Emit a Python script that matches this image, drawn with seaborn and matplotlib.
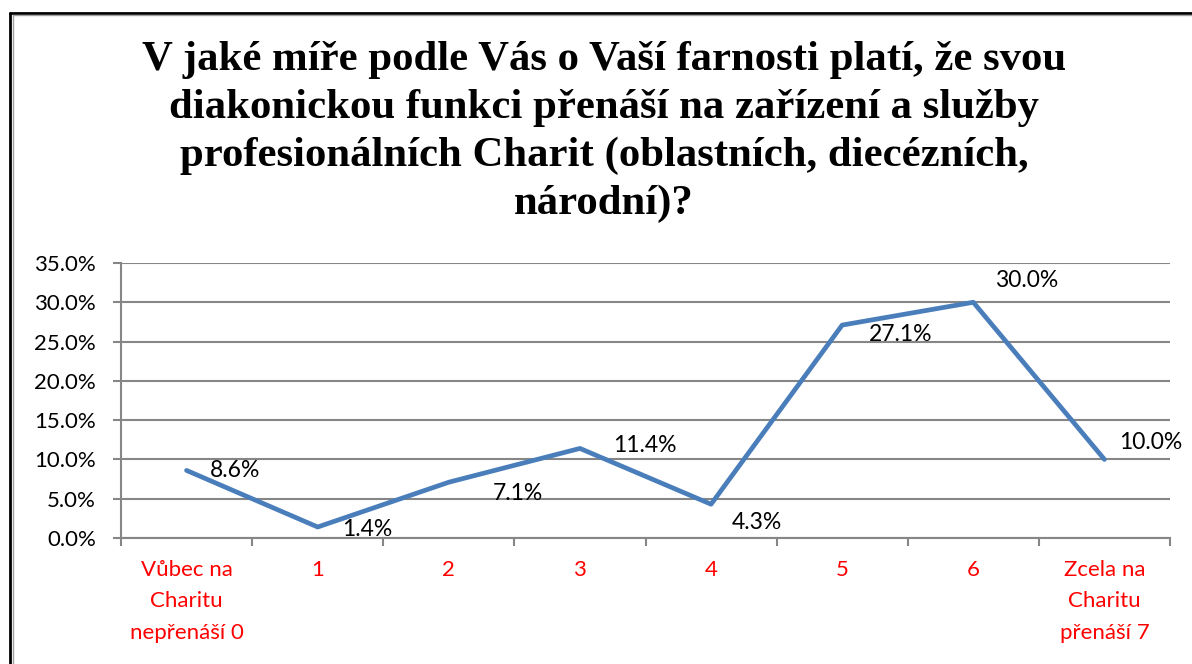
import matplotlib
matplotlib.use("Agg")
import matplotlib.pyplot as plt
import seaborn as sns
import pandas as pd
from matplotlib.lines import Line2D
from matplotlib.ticker import FixedLocator, PercentFormatter

# Data
categories = ["Vůbec na\nCharitu\nnepřenáší 0", "1", "2", "3", "4", "5", "6",
              "Zcela na\nCharitu\npřenáší 7"]
shares = [8.6, 1.4, 7.1, 11.4, 4.3, 27.1, 30.0, 10.0]
labels = ["8.6%", "1.4%", "7.1%", "11.4%", "4.3%", "27.1%", "30.0%", "10.0%"]

title = ("V jaké míře podle Vás o Vaší farnosti platí, že svou\n"
         "diakonickou funkci přenáší na zařízení a služby\n"
         "profesionálních Charit (oblastních, diecézních,\n"
         "národní)?")

# label nudges (pixels) so data labels sit like in the original
label_offsets = [(23, 0), (24, -3), (44, -11), (33, 3), (21, -18), (27, -9), (22, 22), (15, 17)]

df = pd.DataFrame({"pos": range(len(categories)), "share": shares})

sns.set_style("white")
plt.rcParams["font.family"] = ["Lato", "DejaVu Sans"]
plt.rcParams["text.color"] = "black"

fig = plt.figure(figsize=(11.92, 6.64), dpi=100)
ax = fig.add_axes([121 / 1192, 1 - 538 / 664, (1170 - 121) / 1192, (538 - 263) / 664])

sns.lineplot(data=df, x="pos", y="share", ax=ax, color="#4A7EBB", linewidth=3.4)

for (x, y), lab, off in zip(zip(df["pos"], df["share"]), labels, label_offsets):
    ax.annotate(lab, (x, y), xytext=off, textcoords="offset pixels",
                ha="left", va="center", fontsize=16.5, color="black")

ax.set_xlim(-0.5, len(categories) - 0.5)
ax.set_ylim(0, 35)
ax.set_yticks([0, 5, 10, 15, 20, 25, 30, 35])
ax.yaxis.set_major_formatter(PercentFormatter(decimals=1))
ax.set_xticks(range(len(categories)))
ax.set_xticklabels(categories, color="#FF0000", fontsize=16, linespacing=1.7, va="top")
ax.xaxis.set_minor_locator(FixedLocator([i - 0.5 for i in range(len(categories) + 1)]))
ax.tick_params(axis="x", which="major", length=0, pad=16)
ax.tick_params(axis="x", which="minor", length=6, width=1.5, color="#868686", direction="out", bottom=True)
ax.tick_params(axis="y", which="major", length=6, width=1.5, color="#868686", pad=12, labelsize=16,
               labelcolor="black", left=True)
ax.set_xlabel("")
ax.set_ylabel("")
ax.grid(axis="y", color="#868686", linewidth=1.5)
ax.set_axisbelow(True)
for side in ["top", "right"]:
    ax.spines[side].set_visible(False)
for side in ["left", "bottom"]:
    ax.spines[side].set_color("#868686")
    ax.spines[side].set_linewidth(1.5)

fig.text(0.5 + 8 / 1192, 1 - 41 / 664, title, ha="center", va="top", fontsize=30.8, color="black",
         fontweight="bold", family=["Liberation Serif", "DejaVu Serif"], linespacing=1.33)

# outer frame (left and top only, the rest is cut off)
fig.add_artist(Line2D([9.5 / 1192, 9.5 / 1192], [0, 1 - 12.5 / 664], color="black", linewidth=2,
                      transform=fig.transFigure))
fig.add_artist(Line2D([9.5 / 1192, 1], [1 - 12.5 / 664, 1 - 12.5 / 664], color="black", linewidth=2,
                      transform=fig.transFigure))
fig.add_artist(Line2D([12.5 / 1192, 12.5 / 1192], [0, 1 - 15 / 664], color="#A0A0A0", linewidth=1,
                      transform=fig.transFigure))
fig.add_artist(Line2D([12.5 / 1192, 1], [1 - 15 / 664, 1 - 15 / 664], color="#A0A0A0", linewidth=1,
                      transform=fig.transFigure))

fig.savefig("out.png", dpi=100)
